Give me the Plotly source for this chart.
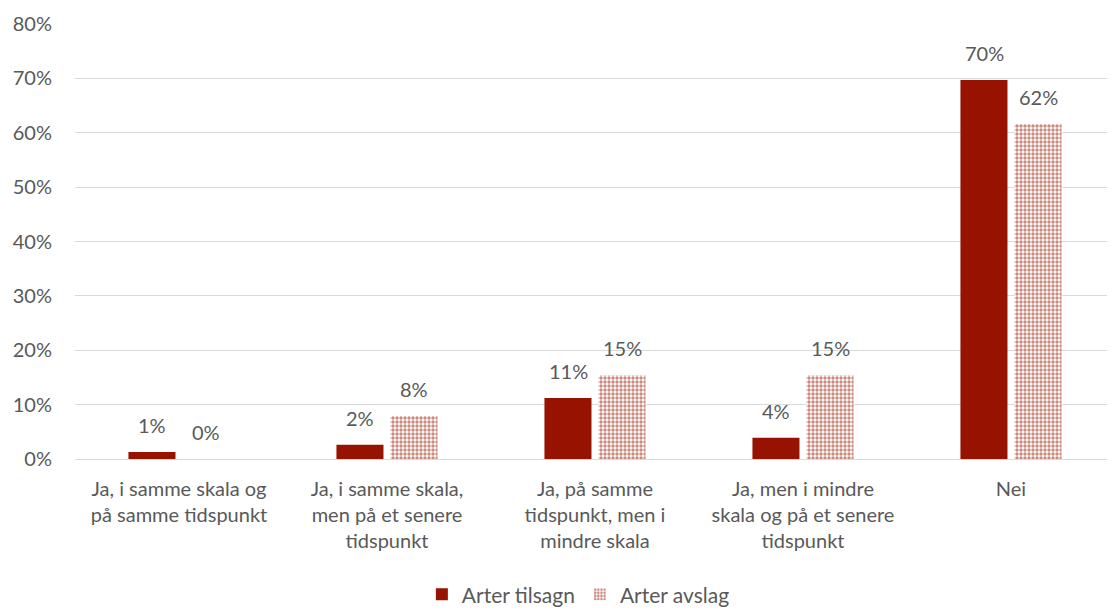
import plotly.graph_objects as go

categories = [
    "Ja, i samme skala og<br>på samme tidspunkt",
    "Ja, i samme skala,<br>men på et senere<br>tidspunkt",
    "Ja, på samme<br>tidspunkt, men i<br>mindre skala",
    "Ja, men i mindre<br>skala og på et senere<br>tidspunkt",
    "Nei",
]
tilsagn = [0.013, 0.026, 0.112, 0.039, 0.697]
avslag = [0.0, 0.079, 0.154, 0.154, 0.616]
tilsagn_labels = ["1%", "2%", "11%", "4%", "70%"]
avslag_labels = ["0%", "8%", "15%", "15%", "62%"]
tick_vals = [0, 0.1, 0.2, 0.3, 0.4, 0.5, 0.6, 0.7, 0.8]
tick_text = ["0%", "10%", "20%", "30%", "40%", "50%", "60%", "70%", "80%"]

RED = "#971200"
GREY = "#595959"
FONT = "Lato"
FS = 20

fig = go.Figure()
fig.add_trace(go.Bar(
    x=categories, y=tilsagn, name="Arter tilsagn",
    marker=dict(color=RED, line=dict(width=0)),
))
fig.add_trace(go.Bar(
    x=categories, y=avslag, name="Arter avslag",
    marker=dict(color="white", line=dict(width=0),
                pattern=dict(shape=".", fgcolor=RED, bgcolor="white",
                             size=4, solidity=0.55, fillmode="overlay")),
))

for i, c in enumerate(categories):
    fig.add_annotation(x=c, y=tilsagn[i], text=tilsagn_labels[i], showarrow=False,
                       xshift=-27, yshift=27, font=dict(family=FONT, size=FS, color=GREY))
    fig.add_annotation(x=c, y=avslag[i], text=avslag_labels[i], showarrow=False,
                       xshift=27, yshift=27, font=dict(family=FONT, size=FS, color=GREY))

fig.update_layout(
    width=1107, height=603,
    margin=dict(l=67, r=0, t=16, b=152, autoexpand=False),
    paper_bgcolor="white", plot_bgcolor="white",
    barmode="group", bargap=0.48, bargroupgap=0.13,
    font=dict(family=FONT, size=FS, color=GREY),
    legend=dict(orientation="h", x=0.484, xanchor="center",
                y=-0.312, yanchor="middle",
                font=dict(family=FONT, size=21, color=GREY), itemwidth=30),
    xaxis=dict(showline=True, linecolor="#d9d9d9", linewidth=1, ticks="",
               automargin=False, ticklabelstandoff=12,
               tickfont=dict(family=FONT, size=FS, color=GREY)),
    yaxis=dict(range=[0, 0.8], tickvals=tick_vals, ticktext=tick_text,
               showgrid=True, gridcolor="#d9d9d9", gridwidth=1, zeroline=False,
               showline=False, ticks="", ticklabelstandoff=22, automargin=False,
               tickfont=dict(family=FONT, size=FS, color=GREY)),
)

fig.write_html("out.html")
